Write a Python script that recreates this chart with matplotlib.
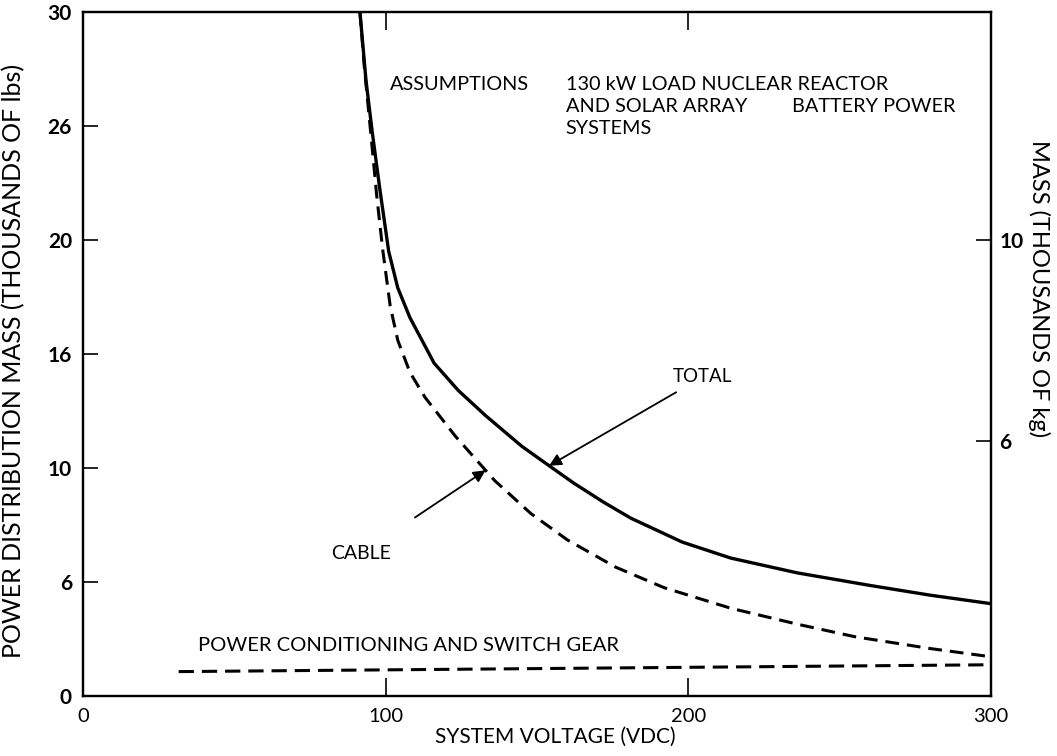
import matplotlib
matplotlib.use("Agg")
import matplotlib.pyplot as plt

# ---- data (system voltage VDC, mass in thousands of lbs) ----
total_v = [91.5, 93.5, 95.5, 98, 101, 104, 108, 116, 124, 133, 145, 154, 162, 172, 181, 198, 214, 236, 260, 280, 300]
total_m = [30.0, 27.0, 24.8, 22.3, 19.5, 17.9, 16.6, 14.6, 13.4, 12.3, 10.95, 10.1, 9.35, 8.5, 7.8, 6.75, 6.05, 5.4, 4.85, 4.42, 4.05]

cable_v = [91.5, 93, 95, 97, 99, 101.5, 104, 108, 113, 123, 136, 148, 160, 176, 192, 214, 236, 255, 280, 300]
cable_m = [30.0, 27.5, 24.8, 22.0, 19.6, 17.1, 15.6, 14.2, 13.1, 11.4, 9.45, 8.0, 6.85, 5.65, 4.75, 3.85, 3.15, 2.6, 2.08, 1.72]

pc_v = [31.6, 300]
pc_m = [1.07, 1.37]

y_ticks = [0, 5, 10, 15, 20, 25, 30]
y_ticklabels = ["0", "6", "10", "16", "20", "26", "30"]
x_ticks = [0, 100, 200, 300]
x_ticklabels = ["0", "100", "200", "300"]
kg_ticks = [6, 10]
kg_ticklabels = ["6", "10"]

FONT = "Lato"
NARROW = ["Liberation Sans Narrow", "Lato", "DejaVu Sans"]

fig = plt.figure(figsize=(10.57, 7.56), dpi=100)
L, R, T, B = 83, 991, 12, 696
ax = fig.add_axes([L / 1057, 1 - B / 756, (R - L) / 1057, (B - T) / 756])

ax.plot(total_v, total_m, color="black", lw=2.4, solid_capstyle="butt", solid_joinstyle="round")
ax.plot(cable_v, cable_m, color="black", lw=2.2, linestyle=(0, (4.5, 2.6)))
ax.plot(pc_v, pc_m, color="black", lw=2.2, linestyle=(0, (5.0, 2.6)))

ax.set_xlim(0, 300)
ax.set_ylim(0, 30)

for s in ax.spines.values():
    s.set_linewidth(1.6)

ax.set_yticks(y_ticks)
ax.set_yticklabels(y_ticklabels, fontsize=15, fontweight="bold", family=FONT)
ax.set_xticks(x_ticks)
ax.set_xticklabels(x_ticklabels, fontsize=14.5, family=NARROW)
ax.tick_params(axis="y", direction="in", length=11, width=1.2, pad=8)
ax.tick_params(axis="x", direction="in", length=13, width=1.2, pad=9, top=True)

ax.set_xlabel("SYSTEM VOLTAGE (VDC)", fontsize=15, family=NARROW)
ax.xaxis.set_label_coords(0.52, -0.045)
ax.set_ylabel("POWER DISTRIBUTION MASS (THOUSANDS OF lbs)", fontsize=18, family=FONT)
ax.yaxis.set_label_coords(-0.063, 0.49)

# secondary mass axis (thousands of kg)
ax2 = ax.twinx()
ax2.set_ylim(0.909, 14.545)
ax2.set_yticks(kg_ticks)
ax2.set_yticklabels(kg_ticklabels, fontsize=15, fontweight="bold", family=FONT)
ax2.tick_params(axis="y", direction="in", length=11, width=1.2, pad=6)
ax2.set_ylabel("MASS (THOUSANDS OF kg)", fontsize=17, family=FONT, rotation=-90, va="bottom")
ax2.yaxis.set_label_coords(1.041, 0.595)
for s in ax2.spines.values():
    s.set_linewidth(1.6)

# annotations
tkw = dict(fontsize=14.3, family=FONT, va="center", ha="left")
ax.text(101.5, 26.8, "ASSUMPTIONS", **tkw)
ax.text(159.5, 26.8, "130 kW LOAD NUCLEAR REACTOR", **tkw)
ax.text(159.5, 25.85, "AND SOLAR ARRAY", **tkw)
ax.text(234.3, 25.85, "BATTERY POWER", **tkw)
ax.text(159.5, 24.9, "SYSTEMS", **tkw)

ax.annotate("TOTAL", xy=(154, 10.1), xytext=(195, 14.0), fontsize=13.5, family=FONT,
            va="center", ha="left",
            arrowprops=dict(arrowstyle="-|>", color="black", lw=1.3, mutation_scale=18,
                            shrinkA=6, shrinkB=0))
ax.annotate("CABLE", xy=(133, 9.9), xytext=(82, 6.25), fontsize=14, family=FONT,
            va="center", ha="left",
            arrowprops=dict(arrowstyle="-|>", color="black", lw=1.3, mutation_scale=18,
                            shrinkA=32, shrinkB=0))
ax.text(38, 2.23, "POWER CONDITIONING AND SWITCH GEAR", fontsize=14.5, family=NARROW,
        va="center", ha="left")

fig.savefig("out.png", dpi=100)
